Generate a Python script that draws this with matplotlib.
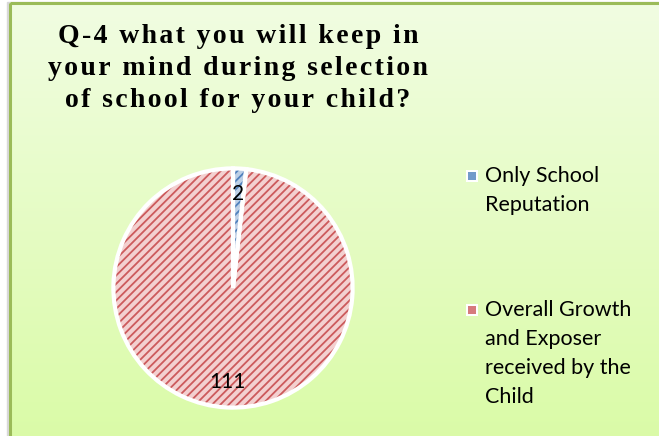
import numpy as np
import matplotlib.pyplot as plt
from matplotlib.patches import Rectangle

categories = ["Only School\nReputation", "Overall Growth\nand Exposer\nreceived by the\nChild"]
values = [2, 111]
title_lines = ["Q-4 what you will keep in", "your mind during selection", "of school for your child?"]

face = ['#bccfe6', '#f3d0d0']
hatch_col = ['#4f81bd', '#cc5a5c']

plt.rcParams['hatch.linewidth'] = 1.3

fig = plt.figure(figsize=(6.59, 4.36), dpi=100)

# background with gradient and green border
bg = fig.add_axes([0, 0, 1, 1])
bg.set_xlim(0, 659)
bg.set_ylim(436, 0)
bg.axis('off')
grad = np.linspace(0, 1, 256)[:, None]
top = np.array([0.945, 0.992, 0.886])
bot = np.array([0.855, 0.984, 0.655])
img = top + (bot - top) * grad[..., None]
bg.add_patch(Rectangle((7, 2), 660, 440, color='#d8d8d8', zorder=0))
bg.imshow(img, extent=[10, 662, 440, 3], aspect='auto', zorder=1)
bg.add_patch(Rectangle((10, 3), 660, 440, fill=False, edgecolor='#9bbb59', lw=2.2, zorder=2))

spaced = ["\u200a".join(line) for line in title_lines]
for i, line in enumerate(spaced):
    bg.text(238, 43 + i * 32, line, ha='center', va='baseline', fontsize=20,
            fontweight='bold', family=['Liberation Serif', 'DejaVu Serif'], color='black', zorder=3)

# pie
ax = fig.add_axes([(233 - 122) / 659, (436 - 288 - 122) / 436, 244 / 659, 244 / 436])
total = sum(values)
wedges, texts, autotexts = ax.pie(values, startangle=90, counterclock=False, colors=face,
                                  radius=1, wedgeprops=dict(linewidth=0),
                                  autopct=lambda p: f'{round(p * total / 100)}', pctdistance=0.79,
                                  textprops=dict(fontsize=15, family='Lato', color='black'))
hw, _ = ax.pie(values, startangle=90, counterclock=False, radius=1,
               wedgeprops=dict(fill=False, linewidth=0))
for w, c in zip(hw, hatch_col):
    w.set_hatch('////')
    w.set_edgecolor(c)
    w.set_linewidth(0)
ow, _ = ax.pie(values, startangle=90, counterclock=False, radius=1,
               wedgeprops=dict(fill=False, edgecolor='white', linewidth=3))
for t in autotexts:
    t.set_zorder(10)
ax.set_xlim(-1.02, 1.02)
ax.set_ylim(-1.02, 1.02)
ax.set_aspect('equal')
ax.axis('off')

# legend
leg_y = [176, 310]
for lab, y, fc, hc in zip(categories, leg_y, face, hatch_col):
    bg.add_patch(Rectangle((466, y - 6), 12, 12, facecolor='white', edgecolor='none', zorder=3))
    bg.add_patch(Rectangle((468, y - 4), 8, 8, facecolor=hc, alpha=0.8, edgecolor='none', zorder=4))
    for k, part in enumerate(lab.split('\n')):
        bg.text(485, y + k * 29, part, ha='left', va='center', fontsize=15.5, family='Lato',
                color='black', zorder=3)

fig.savefig('out.png', dpi=100)
